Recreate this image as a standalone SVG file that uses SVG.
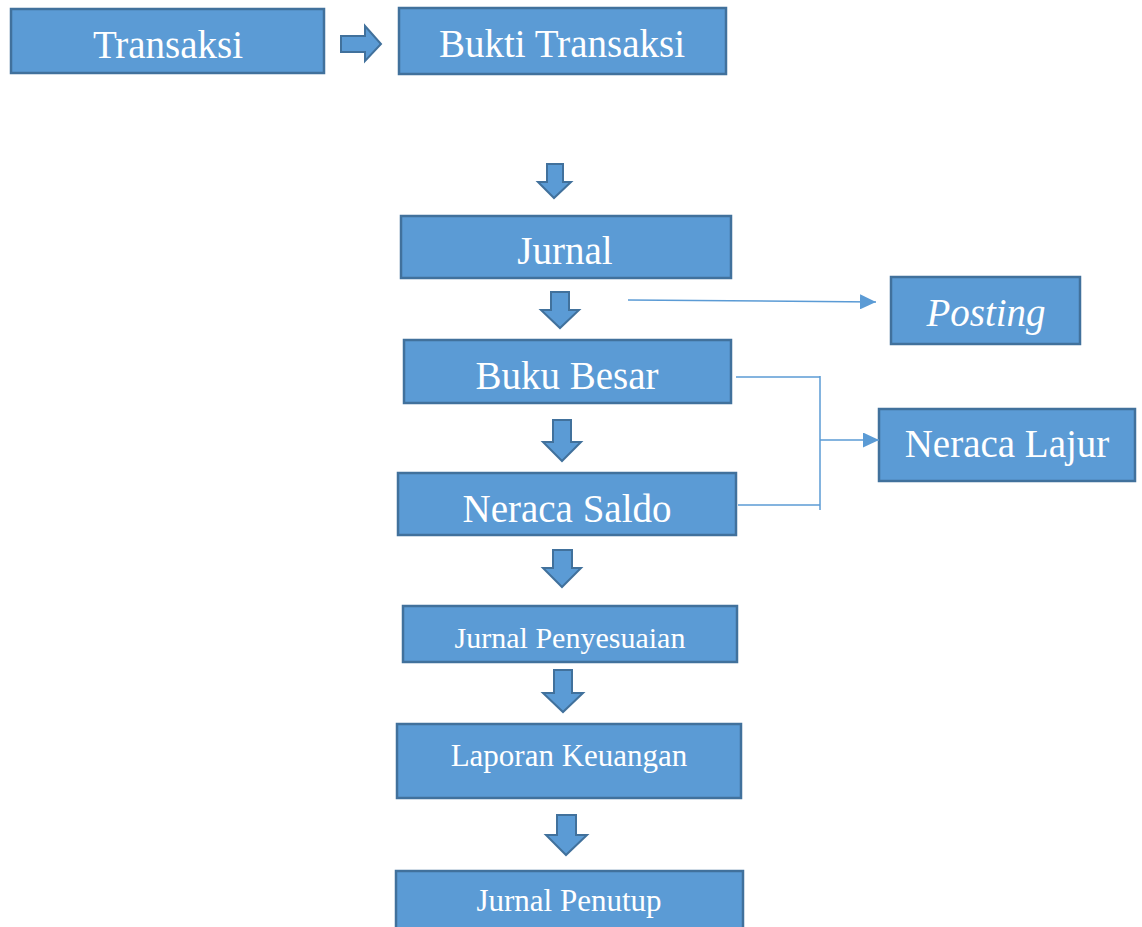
<svg xmlns="http://www.w3.org/2000/svg" width="1142" height="927" viewBox="0 0 1142 927">
<defs>
<style>
.box{fill:#5B9BD5;stroke:#41719C;stroke-width:2.5}
.blk{fill:#5B9BD5;stroke:#41719C;stroke-width:2;stroke-linejoin:miter}
.t{font-family:"Liberation Serif","Times New Roman",serif;fill:#fff;text-anchor:middle}
.con{fill:none;stroke:#5B9BD5;stroke-width:1.5}
</style>
<marker id="ah" viewBox="0 0 16 15" refX="16" refY="7.5" markerWidth="16" markerHeight="15" markerUnits="userSpaceOnUse" orient="auto">
<path d="M0,0 L16,7.5 L0,15 Z" fill="#5B9BD5"/>
</marker>
</defs>
<rect width="1142" height="927" fill="#fff"/>
<g id="transaksi"><rect class="box" x="11" y="9" width="313" height="64"/><text class="t" x="168" y="58" font-size="39">Transaksi</text></g>
<g id="bukti"><rect class="box" x="399" y="8" width="327" height="66"/><text class="t" x="562" y="57" font-size="39">Bukti Transaksi</text></g>
<g id="jurnal"><rect class="box" x="401" y="216" width="330" height="62"/><text class="t" x="565" y="264" font-size="39">Jurnal</text></g>
<g id="posting"><rect class="box" x="891" y="277" width="189" height="67"/><text class="t" x="986" y="326" font-size="39" font-style="italic">Posting</text></g>
<g id="bukubesar"><rect class="box" x="404" y="340" width="327" height="63"/><text class="t" x="567" y="389" font-size="39">Buku Besar</text></g>
<g id="neracalajur"><rect class="box" x="879" y="409" width="256" height="72"/><text class="t" x="1007" y="457" font-size="39">Neraca Lajur</text></g>
<g id="neracasaldo"><rect class="box" x="398" y="473" width="338" height="62"/><text class="t" x="567" y="522" font-size="39">Neraca Saldo</text></g>
<g id="jurnalpenyesuaian"><rect class="box" x="403" y="606" width="334" height="56"/><text class="t" x="570" y="648" font-size="30">Jurnal Penyesuaian</text></g>
<g id="laporankeuangan"><rect class="box" x="397" y="724" width="344" height="74"/><text class="t" x="569" y="766" font-size="31">Laporan Keuangan</text></g>
<g id="jurnalpenutup"><rect class="box" x="396" y="871" width="347" height="70"/><text class="t" x="569" y="911" font-size="31">Jurnal Penutup</text></g>
<g id="connectors">
<polygon class="blk" points="341,36 365,36 365,26 381,44 365,61 365,52 341,52"/>
<polygon class="blk" points="547,164 563,164 563,182 571,182 554,198 538,182 547,182"/>
<polygon class="blk" points="551,292 569,292 569,310 579,310 560,328 541,310 551,310"/>
<polygon class="blk" points="553,420 571,420 571,442 581,442 562,461 543,442 553,442"/>
<polygon class="blk" points="553,550 572,550 572,568 581,568 562,587 543,568 553,568"/>
<polygon class="blk" points="554,670 572,670 572,693 583,693 563,712 543,693 554,693"/>
<polygon class="blk" points="557,815 576,815 576,835 587,835 566,855 546,835 557,835"/>
<line class="con" x1="628" y1="300" x2="876" y2="302" marker-end="url(#ah)"/>
<polyline class="con" points="736,377 820,377"/>
<polyline class="con" points="738,505 820,505"/>
<line class="con" x1="820" y1="376" x2="820" y2="510"/>
<line class="con" x1="820" y1="440" x2="879" y2="440" marker-end="url(#ah)"/>
</g>
</svg>
